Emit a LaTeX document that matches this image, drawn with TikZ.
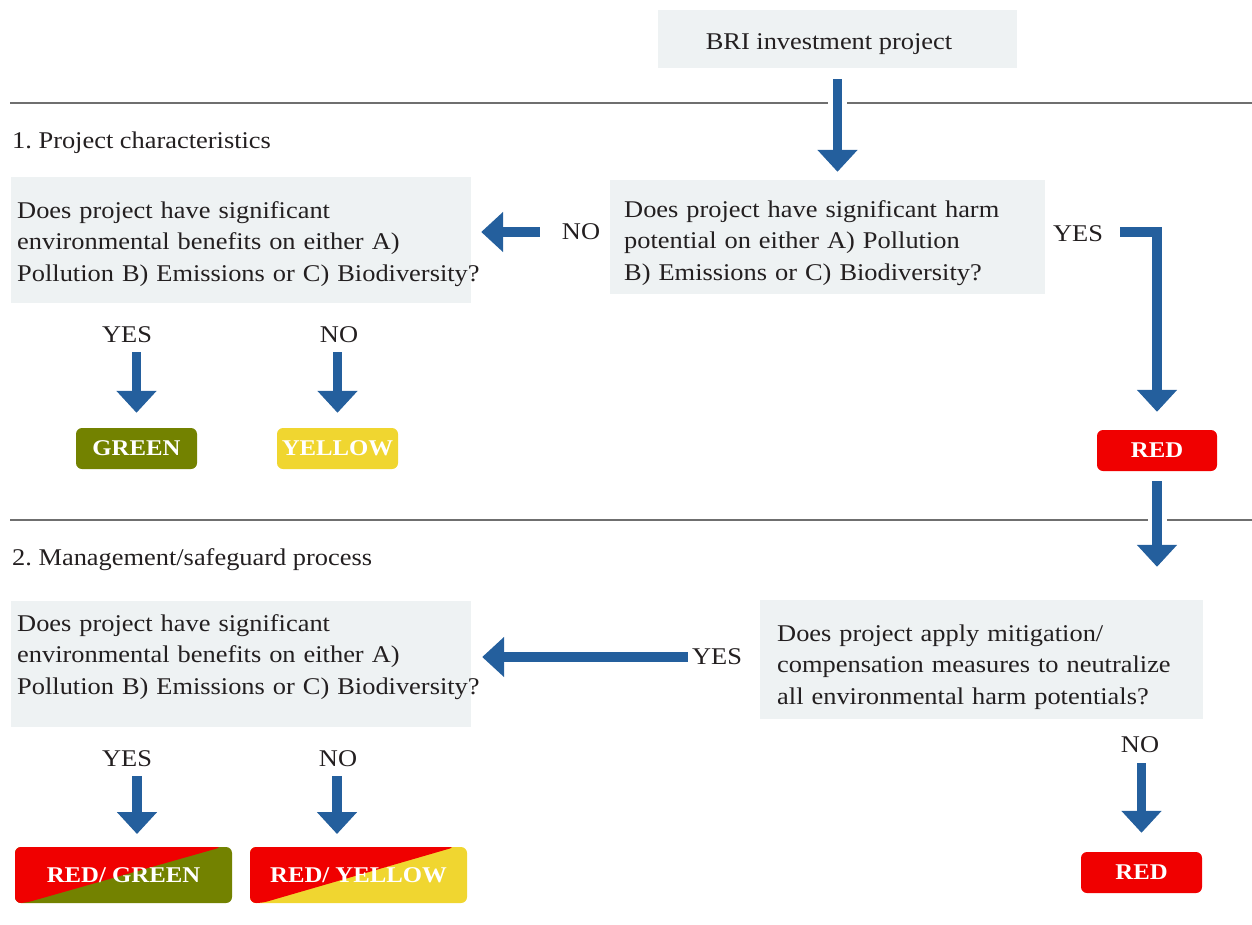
\documentclass[tikz,border=0pt]{standalone}
\usepackage{fontspec}
\setmainfont{Liberation Serif}[FakeStretch=1.1]
\usetikzlibrary{arrows.meta}
\definecolor{abl}{HTML}{245F9D}
\definecolor{boxg}{HTML}{EEF2F3}
\definecolor{lineg}{HTML}{6F6F6F}
\definecolor{txtc}{HTML}{231F20}
\definecolor{redc}{HTML}{F00000}
\definecolor{olivec}{HTML}{738200}
\definecolor{yelc}{HTML}{F0D630}
\frenchspacing
\begin{document}
\begin{tikzpicture}[x=1pt,y=-1pt,
  qbox/.style={fill=boxg, inner sep=0pt},
  qtext/.style={inner sep=0pt, text=txtc, anchor=base west, text width=600pt, align=left,
     font=\fontsize{24}{31.5}\selectfont},
  lbl/.style={inner sep=0pt, text=txtc, font=\fontsize{24}{31.5}\selectfont},
  cbox/.style={rounded corners=6pt, inner sep=0pt, text=white, text depth=0pt,
     font=\bfseries\fontsize{22.5}{27}\selectfont},
  barrow/.style={draw=abl, line width=9.5pt, line join=miter,
     -{Triangle[length=22pt,width=39pt]}},
  secline/.style={draw=lineg, line width=1.6pt}]
\useasboundingbox (0,0) rectangle (1252,924);

% section lines
\draw[secline] (10,103) -- (828,103);
\draw[secline] (847,103) -- (1252,103);
\draw[secline] (10,520) -- (1148,520);
\draw[secline] (1167,520) -- (1252,520);

% headings
\node[lbl, anchor=base west] (h1) at (12,148) {1. Project characteristics};
\node[lbl, anchor=base west] (h2) at (12,565) {2. Management/safeguard process};

% top box
\node[qbox, minimum width=359pt, minimum height=58pt] (bri) at (837.5,39) {};
\node[lbl, anchor=base] (britxt) at (829,49) {BRI investment project};

% question boxes
\node[qbox, minimum width=460pt, minimum height=126pt] (q1l) at (241,240) {};
\node[qtext] (q1ltxt) at (17,218) {Does project have significant\\environmental benefits on either A)\\Pollution B) Emissions or C) Biodiversity?};
\node[qbox, minimum width=435pt, minimum height=114pt] (q1r) at (827.5,237) {};
\node[qtext] (q1rtxt) at (624,217) {Does project have significant harm\\potential on either A) Pollution\\B) Emissions or C) Biodiversity?};
\node[qbox, minimum width=460pt, minimum height=126pt] (q2l) at (241,664) {};
\node[qtext] (q2ltxt) at (17,631) {Does project have significant\\environmental benefits on either A)\\Pollution B) Emissions or C) Biodiversity?};
\node[qbox, minimum width=443pt, minimum height=119pt] (q2r) at (981.5,659.5) {};
\node[qtext] (q2rtxt) at (777,641) {Does project apply mitigation/\\compensation measures to neutralize\\all environmental harm potentials?};

% labels
\node[lbl] (no1) at (581,232) {NO};
\node[lbl] (yes1) at (1078,234) {YES};
\node[lbl] (yesa) at (127,335) {YES};
\node[lbl] (noa) at (339,335) {NO};
\node[lbl] (yes2) at (717,657) {YES};
\node[lbl] (no3) at (1140,745) {NO};
\node[lbl] (yesb) at (127,759) {YES};
\node[lbl] (nob) at (338,759) {NO};

% colour boxes
\node[cbox, fill=olivec, minimum width=121pt, minimum height=41pt] (green1) at (136.5,448.5) {GREEN};
\node[cbox, fill=yelc, minimum width=121pt, minimum height=41pt] (yellow1) at (337.5,448.5) {YELLOW};
\node[cbox, fill=redc, minimum width=120pt, minimum height=41pt] (red1) at (1157,450.5) {RED};
\node[cbox, fill=redc, minimum width=121pt, minimum height=41pt] (red2) at (1141.5,872.5) {RED};
\node[cbox, fill=olivec, minimum width=217pt, minimum height=56pt,
  path picture={\fill[redc] (path picture bounding box.north west) -- ([xshift=-10pt]path picture bounding box.north east) -- ([xshift=10pt]path picture bounding box.south west) -- (path picture bounding box.south west) -- cycle;}]
  (rg) at (123.5,875) {RED/ GREEN};
\node[cbox, fill=yelc, minimum width=217pt, minimum height=56pt,
  path picture={\fill[redc] (path picture bounding box.north west) -- ([xshift=-12pt]path picture bounding box.north east) -- ([xshift=12pt]path picture bounding box.south west) -- (path picture bounding box.south west) -- cycle;}]
  (ry) at (358.5,875) {RED/ YELLOW};
\coordinate (rgin) at (137,847);
\coordinate (ryin) at (337,847);

% connectors
\draw[barrow, shorten <=11pt, shorten >=8pt] (bri.south) -- (bri.south |- q1r.north);
\draw[barrow, shorten <=22pt, shorten >=10pt] (no1.west) -- (no1.west -| q1l.east);
\draw[barrow, shorten <=17pt, shorten >=18pt] ([yshift=2pt]yes1.east) -| (red1.north);
\draw[barrow, shorten <=10pt, shorten >=33pt] (red1.south) -- (red1.south |- q2r.north);
\draw[barrow, shorten <=4pt, shorten >=11pt] (yes2.west) -- (yes2.west -| q2l.east);
\draw[barrow, shorten <=10pt, shorten >=19pt] (no3.south -| red2.north) -- (red2.north);
\draw[barrow, shorten <=9pt, shorten >=15pt] (yesa.south -| green1.north) -- (green1.north);
\draw[barrow, shorten <=9pt, shorten >=15pt] (noa.south -| yellow1.north) -- (yellow1.north);
\draw[barrow, shorten <=9pt, shorten >=13pt] (yesb.south -| rgin) -- (rgin);
\draw[barrow, shorten <=9pt, shorten >=13pt] (nob.south -| ryin) -- (ryin);
\end{tikzpicture}
\end{document}
